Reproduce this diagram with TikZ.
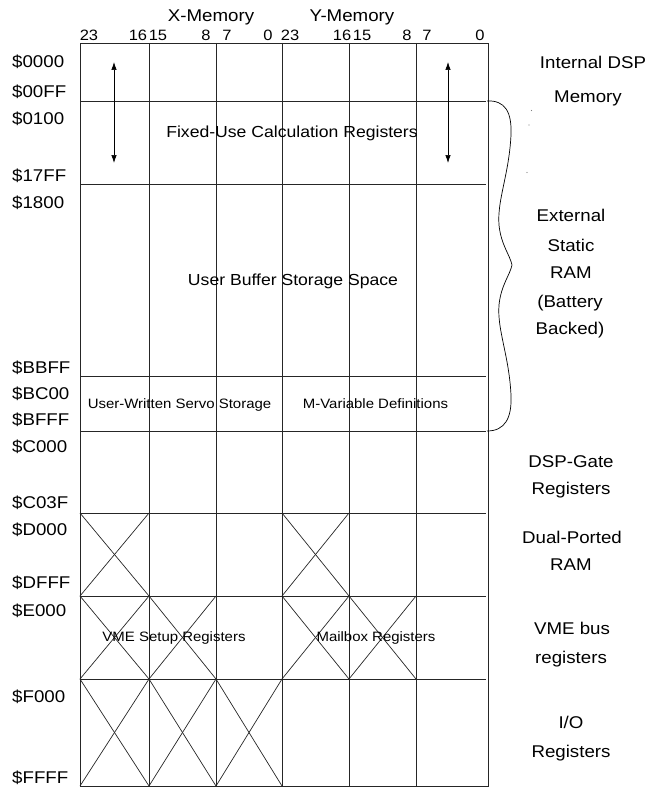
\documentclass[tikz,border=0pt]{standalone}
\usepackage{fontspec}
\setmainfont{Liberation Sans}[FakeStretch=1.1]
\usetikzlibrary{arrows.meta}
\begin{document}
\begin{tikzpicture}[x=1pt,y=-1pt,
  lab/.style={font=\fontsize{17}{20}\selectfont, inner sep=0pt, text height=12.2pt, text depth=0pt},
  addr/.style={lab, anchor=west},
  bit/.style={font=\fontsize{15}{18}\selectfont, inner sep=0pt, text height=10.7pt, text depth=0pt},
  big/.style={font=\fontsize{16}{19}\selectfont, inner sep=0pt, text height=11.5pt, text depth=0pt},
  small/.style={font=\fontsize{13.6}{16}\selectfont, inner sep=0pt, text height=9.7pt, text depth=0pt},
  gridline/.style={draw=black!85, line width=0.8pt},
  xline/.style={draw=black!85, line width=0.7pt},
  arr/.style={draw=black, line width=0.7pt, {Latex[length=8pt,width=5.5pt]}-{Latex[length=8pt,width=5.5pt]}},
  bracepath/.style={draw=black, line width=0.7pt}]
\useasboundingbox (0,0) rectangle (646,789);
% outer box
\draw[gridline] (80,43) rectangle (488,786);
% column lines
\foreach \cx in {149,216,282,349,416} \draw[gridline] (\cx,43) -- (\cx,786);
% row lines
\foreach \ry in {101,184,376,431,513,596,679} \draw[gridline] (81,\ry) -- (486,\ry);
% crosses
\foreach \xa/\xb/\ya/\yb in {80/149/513/596, 282/349/513/596,
   80/149/596/679, 149/216/596/679, 282/349/596/679, 349/416/596/679,
   80/149/679/786, 149/216/679/786, 216/282/679/786}
  {\draw[xline] (\xa,\ya) -- (\xb,\yb); \draw[xline] (\xa,\yb) -- (\xb,\ya);}
% headers
\node[lab] (xm) at (211,15) {X-Memory};
\node[lab] (ym) at (352,15) {Y-Memory};
\node[bit] (b1) at (89,35) {23};
\node[bit] (b2) at (138,35) {16};
\node[bit] (b3) at (158,35) {15};
\node[bit] (b4) at (206,35) {8};
\node[bit] (b5) at (227,35) {7};
\node[bit] (b6) at (268,35) {0};
\node[bit] (b7) at (290,35) {23};
\node[bit] (b8) at (342,35) {16};
\node[bit] (b9) at (362,35) {15};
\node[bit] (b10) at (407,35) {8};
\node[bit] (b11) at (427,35) {7};
\node[bit] (b12) at (480,35) {0};
% addresses
\node[addr] (a1) at (12,61.5) {\$0000};
\node[addr] (a2) at (12,91.5) {\$00FF};
\node[addr] (a3) at (12,118) {\$0100};
\node[addr] (a4) at (12,175) {\$17FF};
\node[addr] (a5) at (12,202) {\$1800};
\node[addr] (a6) at (12,367) {\$BBFF};
\node[addr] (a7) at (12,393) {\$BC00};
\node[addr] (a8) at (12,419) {\$BFFF};
\node[addr] (a9) at (12,446) {\$C000};
\node[addr] (a10) at (12,502) {\$C03F};
\node[addr] (a11) at (12,529) {\$D000};
\node[addr] (a12) at (12,582) {\$DFFF};
\node[addr] (a13) at (12,610) {\$E000};
\node[addr] (a14) at (12,696) {\$F000};
\node[addr] (a15) at (12,777) {\$FFFF};
% interior labels
\node[big] (fixed) at (292,132) {Fixed-Use Calculation Registers};
\node[big] (ubuf) at (293,280) {User Buffer Storage Space};
\node[small] (uws) at (179.5,403.5) {User-Written Servo Storage};
\node[small] (mvar) at (375.5,403.5) {M-Variable Definitions};
\node[small] (vme) at (174,637) {VME Setup Registers};
\node[small] (mail) at (376,637) {Mailbox Registers};
% arrows
\coordinate (la1) at (114,62);
\coordinate (la2) at (114,163);
\coordinate (ra1) at (448,62);
\coordinate (ra2) at (448,163);
\draw[arr] (la1) -- (la2);
\draw[arr] (ra1) -- (ra2);
% brace
\draw[bracepath] (487,101) .. controls (505,100) and (512,112) .. (511,135)
  .. controls (509,175) and (497,200) .. (499,225)
  .. controls (501,245) and (510,255) .. (512,265)
  .. controls (510,275) and (501,285) .. (499,305)
  .. controls (497,330) and (509,355) .. (511,395)
  .. controls (512,418) and (505,431) .. (487,431);
% stray dots
\fill[black!50] (531.5,110.5) circle (0.6);
\fill[black!50] (529,125) circle (0.6);
\fill[black!50] (527,172.5) circle (0.6);
% right labels
\node[lab] (r1) at (593,62) {Internal DSP};
\node[lab] (r2) at (588,96) {Memory};
\node[lab] (r3) at (571,215) {External};
\node[lab] (r4) at (571,245) {Static};
\node[lab] (r5) at (571,272) {RAM};
\node[lab] (r6) at (570,301) {(Battery};
\node[lab] (r7) at (570,328) {Backed)};
\node[lab] (r8) at (571,461) {DSP-Gate};
\node[lab] (r9) at (571,488) {Registers};
\node[lab] (r10) at (572,537) {Dual-Ported};
\node[lab] (r11) at (571,564) {RAM};
\node[lab] (r12) at (572,628) {VME bus};
\node[lab] (r13) at (571,657) {registers};
\node[lab] (r14) at (571,722) {I/O};
\node[lab] (r15) at (571,751) {Registers};
\end{tikzpicture}
\end{document}
